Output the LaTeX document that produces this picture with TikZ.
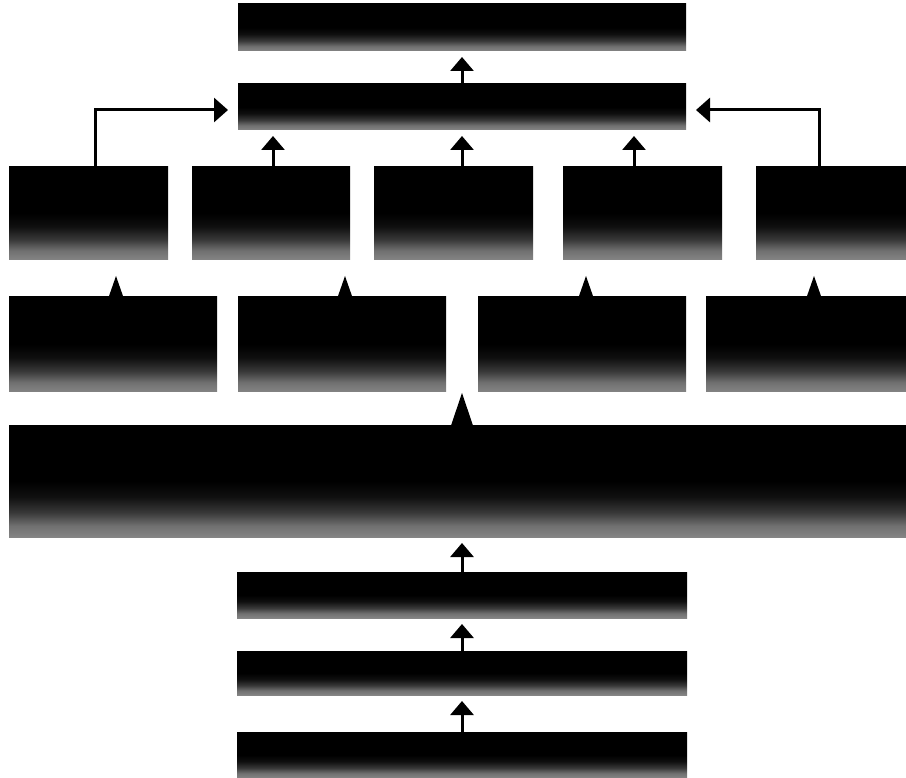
\documentclass[tikz,border=0pt]{standalone}
\usetikzlibrary{arrows.meta}

% black panel fading to a dusty grey along its lower edge
% (the visible part of a vertical shading runs from 25bp at the bottom to 75bp at the top)
\pgfdeclareverticalshading{panelshade}{100bp}{
  color(0bp)=(black!48); color(25bp)=(black!48); color(30bp)=(black!56);
  color(36bp)=(black!78); color(43bp)=(black!94); color(50bp)=(black);
  color(100bp)=(black)}

\tikzset{
  panel/.style={anchor=north west, inner sep=0pt, outer sep=0pt,
    shade, shading=panelshade, minimum width=#1},
  up/.style={line width=3pt, -{Triangle[width=23pt,length=14pt]}, shorten >=6pt},
  elbow/.style={line width=3pt, -{Triangle[width=24pt,length=14pt]}, shorten >=10pt},
}

\begin{document}
\begin{tikzpicture}[x=1pt,y=-1pt]
  \useasboundingbox (0,0) rectangle (906,778);

  % top column
  \node[panel=448pt, minimum height=47pt] (top)  at (238,4)  {};
  \node[panel=448pt, minimum height=46pt] (hub)  at (238,84) {};

  % row of five
  \node[panel=159pt, minimum height=93pt] (a1) at (9,167)   {};
  \node[panel=158pt, minimum height=93pt] (a2) at (192,167) {};
  \node[panel=159pt, minimum height=93pt] (a3) at (374,167) {};
  \node[panel=159pt, minimum height=93pt] (a4) at (563,167) {};
  \node[panel=150pt, minimum height=93pt] (a5) at (756,167) {};

  % row of four
  \node[panel=208pt, minimum height=95pt] (b1) at (9,297)   {};
  \node[panel=208pt, minimum height=95pt] (b2) at (238,297) {};
  \node[panel=208pt, minimum height=95pt] (b3) at (478,297) {};
  \node[panel=200pt, minimum height=95pt] (b4) at (706,297) {};

  % wide base
  \node[panel=897pt, minimum height=112pt] (base) at (9,425) {};

  % bottom stack
  \node[panel=450pt, minimum height=46pt] (c1) at (237,572) {};
  \node[panel=450pt, minimum height=44pt] (c2) at (237,651) {};
  \node[panel=450pt, minimum height=46pt] (c3) at (237,732) {};

  % connectors
  \draw[up] (hub.north) -- (top.south);
  \draw[up] (a2.north -| 273,0) -- (hub.south -| 273,0);
  \draw[up] (a3.north -| 462,0) -- (hub.south -| 462,0);
  \draw[up] (a4.north -| 634,0) -- (hub.south -| 634,0);
  \draw[elbow] (a1.north -| 95,0) |- (hub.west |- 0,110);
  \draw[elbow] (a5.north -| 819,0) |- (hub.east |- 0,110);
  \draw[up] (c1.north -| 462,0) -- (base.south -| 462,0);
  \draw[up] (c2.north -| 462,0) -- (c1.south -| 462,0);
  \draw[up] (c3.north -| 462,0) -- (c2.south -| 462,0);

  % spikes on top of the panels
  \foreach \n/\x in {b1/116, b2/345, b3/586, b4/814}
    \fill (\n.north -| \x,0) ++(-7.5,0.5) -- ++(7.5,-21.5) -- ++(7.5,21.5) -- cycle;
  \fill (base.north -| 462,0) ++(-11,0.5) -- ++(11,-32.5) -- ++(11,32.5) -- cycle;
\end{tikzpicture}
\end{document}
